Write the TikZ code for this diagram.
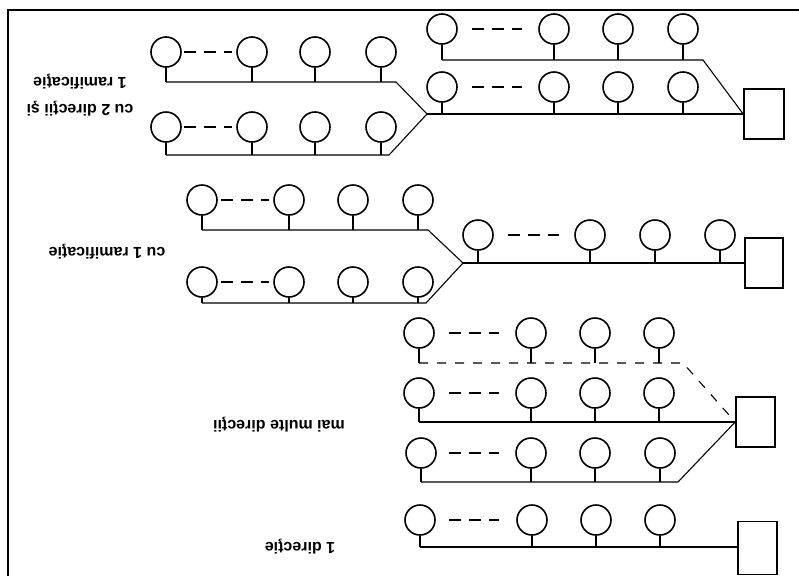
\documentclass[tikz,border=0pt]{standalone}
\usepackage{fontspec}
\setmainfont{Liberation Sans}
\begin{document}
\begin{tikzpicture}[x=1pt,y=-1pt,
  pump/.style={draw, circle, minimum size=30pt, inner sep=0pt, line width=1.6pt},
  tank/.style={draw, rectangle, inner sep=0pt, line width=1.6pt},
  pipe/.style={line width=1.1pt, line join=round},
  gapline/.style={line width=1.8pt, dash pattern=on 12pt off 8pt},
  dpipe/.style={line width=1.1pt, dash pattern=on 9pt off 9pt},
  lbl/.style={rotate=180, align=center, inner sep=0pt, font=\bfseries\fontsize{16}{27}\selectfont},
  frame/.style={line width=1.6pt}]
\useasboundingbox (0,0) rectangle (799,576);
\draw[frame] (8,576) -- (8,10) -- (799,10);

% one row of pumps: name, y of circles, y of bus, x list
\newcommand\pumprow[4]{%
  \foreach \xx [count=\ii] in {#4} {
    \node[pump] (#1\ii) at (\xx,#2) {};
    \coordinate (#1\ii b) at (\xx,#3);
    \draw[pipe] (#1\ii.south) -- (#1\ii b);
  }%
}

% ---------- section 1 : cu 2 directii si 1 ramificatie ----------
\node[tank, minimum width=40pt, minimum height=50pt] (tk1) at (764,114) {};
\pumprow{ra}{29}{60}{442,554,618,683}
\pumprow{rb}{87}{114}{442,554,618,683}
\pumprow{rc}{52}{82}{166,252,315,381}
\pumprow{rd}{127}{155}{166,252,315,381}
\coordinate (ka) at (703,60);
\coordinate (br1) at (427,114);
\coordinate (kc) at (396,82);
\coordinate (kd) at (389,155);
\draw[pipe] (ra1b) -- (ka) -- (tk1.west);
\draw[pipe] (br1) -- (tk1.west);
\draw[pipe] (rc1b) -- (kc) -- (br1);
\draw[pipe] (rd1b) -- (kd) -- (br1);
\draw[gapline] ([xshift=14pt]ra1.east) -- ([xshift=-16pt]ra2.west);
\draw[gapline] ([xshift=14pt]rb1.east) -- ([xshift=-16pt]rb2.west);
\draw[gapline] ([xshift=2pt]rc1.east) -- ([xshift=-4pt]rc2.west);
\draw[gapline] ([xshift=2pt]rd1.east) -- ([xshift=-4pt]rd2.west);
\node[lbl] (t1) at (80,95) {cu 2 direcţii şi\\1 ramificaţie};

% ---------- section 2 : cu 1 ramificatie ----------
\node[tank, minimum width=38pt, minimum height=50pt] (tk2) at (764,263) {};
\pumprow{re}{200}{230}{202,289,353,418}
\pumprow{rf}{282}{303}{202,289,353,418}
\pumprow{rg}{235}{263}{478,590,655,720}
\coordinate (br2) at (463,263);
\coordinate (ke) at (428,230);
\coordinate (kf) at (426,303);
\draw[pipe] (br2) -- (tk2.west);
\draw[pipe] (re1b) -- (ke) -- (br2);
\draw[pipe] (rf1b) -- (kf) -- (br2);
\draw[gapline] ([xshift=3pt]re1.east) -- ([xshift=-4pt]re2.west);
\draw[gapline] ([xshift=3pt]rf1.east) -- ([xshift=-4pt]rf2.west);
\draw[gapline] ([xshift=14pt]rg1.east) -- ([xshift=-15pt]rg2.west);
\node[lbl] (t2) at (107,252) {cu 1 ramificaţie};

% ---------- section 3 : mai multe directii ----------
\node[tank, minimum width=39pt, minimum height=50pt] (tk3) at (755.5,422) {};
\pumprow{rh}{333}{363}{419,531,595,659}
\pumprow{rk}{393}{422}{419,531,595,659}
\pumprow{rm}{453}{482}{421,531,595,660}
\coordinate (kh) at (683,363);
\coordinate (km) at (678,482);
\draw[dpipe] (rh1b) -- (kh) -- (tk3.west);
\draw[pipe] (rk1b) -- (tk3.west);
\draw[pipe] (rm1b) -- (km) -- (tk3.west);
\draw[gapline] ([xshift=14pt]rh1.east) -- ([xshift=-16pt]rh2.west);
\draw[gapline] ([xshift=14pt]rk1.east) -- ([xshift=-16pt]rk2.west);
\draw[gapline] ([xshift=12pt]rm1.east) -- ([xshift=-16pt]rm2.west);
\node[lbl] (t3) at (279,425) {mai multe direcţii};

% ---------- section 4 : 1 directie ----------
\node[tank, minimum width=39pt, minimum height=53pt] (tk4) at (757.5,548) {};
\pumprow{rn}{520}{547}{420,532,596,660}
\draw[pipe] (rn1b) -- (rn1b -| tk4.west);
\draw[gapline] ([xshift=13pt]rn1.east) -- ([xshift=-17pt]rn2.west);
\node[lbl] (t4) at (300,547) {1 direcţie};
\end{tikzpicture}
\end{document}
